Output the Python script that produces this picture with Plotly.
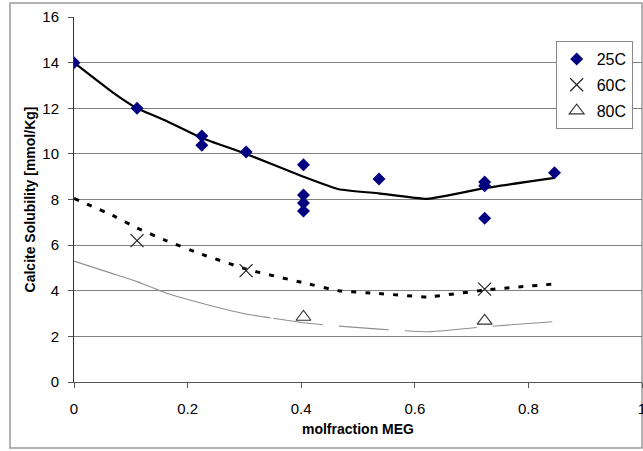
import plotly.graph_objects as go

# ---- data ----
# measured points
x25 = [0.0, 0.111, 0.225, 0.225, 0.303, 0.404, 0.404, 0.404, 0.404, 0.537, 0.723, 0.723, 0.723, 0.846]
y25 = [14.0, 12.0, 10.78, 10.38, 10.08, 9.52, 8.2, 7.85, 7.5, 8.9, 8.77, 8.6, 7.18, 9.17]

x60 = [0.111, 0.303, 0.723]
y60 = [6.2, 4.88, 4.07]

x80 = [0.404, 0.723]
y80 = [2.85, 2.68]

# model curves
xm = [0.0, 0.068, 0.111, 0.162, 0.225, 0.303, 0.404, 0.466, 0.537, 0.622, 0.723, 0.846]
m25 = [14.0, 12.7, 12.0, 11.45, 10.7, 10.0, 9.0, 8.45, 8.27, 8.03, 8.5, 8.95]
m60 = [8.05, 7.3, 6.75, 6.2, 5.6, 4.95, 4.35, 4.0, 3.88, 3.73, 4.03, 4.3]
m80 = [5.3, 4.75, 4.4, 3.9, 3.45, 2.98, 2.6, 2.45, 2.32, 2.2, 2.42, 2.65]

names = ["25C", "60C", "80C"]
xticks = [0, 0.2, 0.4, 0.6, 0.8, 1]
xticklabels = ["0", "0.2", "0.4", "0.6", "0.8", "1"]
yticks = [0, 2, 4, 6, 8, 10, 12, 14, 16]

FONT = "Arial, Liberation Sans, sans-serif"

fig = go.Figure()

# model lines
fig.add_trace(go.Scatter(x=xm, y=m25, mode="lines", showlegend=False, line_shape="spline",
                         line=dict(color="black", width=2.2, smoothing=0.4), hoverinfo="skip"))
fig.add_trace(go.Scatter(x=xm, y=m60, mode="lines", showlegend=False, line_shape="spline",
                         line=dict(color="black", width=3, dash="5px,9px", smoothing=0.4),
                         hoverinfo="skip"))
fig.add_trace(go.Scatter(x=xm, y=m80, mode="lines", showlegend=False, line_shape="spline",
                         line=dict(color="#8f8f8f", width=1.1, smoothing=0.4,
                                   dash="205px,3px,50px,16px,50px,16px,72px,16px,60px"),
                         hoverinfo="skip"))

# measured points
fig.add_trace(go.Scatter(x=x25, y=y25, mode="markers", name=names[0], legendgroup="a",
                         marker=dict(symbol="diamond", size=10, color="#000080")))
fig.add_trace(go.Scatter(x=x60, y=y60, mode="markers", name=names[1], legendgroup="b",
                         marker=dict(symbol="x-thin", size=13, color="#222222",
                                     line=dict(color="#222222", width=1.2))))
fig.add_trace(go.Scatter(x=x80, y=y80, mode="markers", name=names[2], legendgroup="c",
                         marker=dict(symbol="triangle-up-open", size=13, color="#333333",
                                     line=dict(color="#333333", width=1.1))))

# outer chart frame
fig.add_shape(type="rect", xref="paper", yref="paper",
              x0=-0.1127, x1=1.0, y0=-0.181, y1=1.0384,
              line=dict(color="#9a9a9a", width=1.5), layer="below")

fig.update_layout(
    width=643, height=451,
    margin=dict(l=74, r=1, t=17, b=69),
    paper_bgcolor="white", plot_bgcolor="white",
    font=dict(family=FONT, color="black"),
    legend=dict(x=0.848, y=0.934, xanchor="left", yanchor="top",
                bgcolor="white", bordercolor="#888888", borderwidth=1,
                font=dict(size=16, family=FONT), itemwidth=30,
                tracegroupgap=2),
    xaxis=dict(range=[0, 1], tickvals=xticks, ticktext=xticklabels,
               automargin=False,
               showgrid=False, zeroline=False,
               showline=True, linecolor="#555555", linewidth=1,
               ticks="outside", ticklen=5, tickcolor="#555555",
               tickfont=dict(size=15), ticklabelstandoff=8,
               ticklabeloverflow="allow",
               title=dict(text="<b>molfraction MEG</b>", font=dict(size=14), standoff=8)),
    yaxis=dict(range=[0, 16], tickvals=yticks,
               automargin=False,
               showgrid=True, gridcolor="#808080", gridwidth=1,
               zeroline=False,
               showline=True, linecolor="#333333", linewidth=1,
               ticks="outside", ticklen=5, tickcolor="#555555",
               tickfont=dict(size=15), ticklabelstandoff=6,
               title=dict(text="<b>Calcite Solubility [mmol/Kg]</b>", font=dict(size=14), standoff=3)),
)

fig.write_html("out.html")
